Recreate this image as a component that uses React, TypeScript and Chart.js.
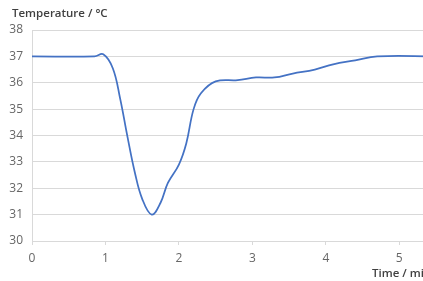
import React, { useEffect, useRef } from "react";
import { Chart, registerables } from "chart.js";

Chart.register(...registerables);

const timeMin = [0, 0.85, 0.97, 1.1, 1.2, 1.3, 1.4, 1.5, 1.63, 1.75, 1.85, 2.0, 2.1, 2.2, 2.3, 2.5, 2.8, 3.05, 3.3, 3.55, 3.85, 4.1, 4.4, 4.7, 5.5];
const temperature = [37, 37, 37.08, 36.55, 35.4, 33.95, 32.6, 31.6, 31.0, 31.45, 32.2, 32.9, 33.7, 35.0, 35.6, 36.05, 36.1, 36.2, 36.2, 36.35, 36.5, 36.7, 36.85, 37.0, 37.0];
const yTitle = "Temperature / °C";
const xTitle = "Time / min";

const FONT = "'Open Sans', 'Noto Sans', sans-serif";

const titlesPlugin = {
  id: "axisTitles",
  afterDraw(chart: any) {
    const ctx = chart.ctx;
    ctx.save();
    ctx.fillStyle = "#404040";
    ctx.font = `600 11.5px ${FONT}`;
    ctx.textBaseline = "middle";
    ctx.textAlign = "left";
    ctx.fillText(yTitle, 12, 14);
    ctx.fillText(xTitle, 372, 274);
    ctx.restore();
  },
};

export default function App() {
  const ref = useRef<HTMLCanvasElement | null>(null);
  useEffect(() => {
    if (!ref.current) return;
    const chart = new Chart(ref.current, {
      type: "line",
      data: {
        datasets: [
          {
            data: timeMin.map((x, i) => ({ x, y: temperature[i] })),
            borderColor: "#4472C4",
            borderWidth: 1.75,
            pointRadius: 0,
            tension: 0.4,
            fill: false,
          },
        ],
      },
      options: {
        responsive: false,
        animation: false,
        devicePixelRatio: 1,
        layout: { padding: { top: 30, right: 9, left: 0, bottom: 0 } },
        plugins: { legend: { display: false }, tooltip: { enabled: false } },
        scales: {
          x: {
            type: "linear",
            min: 0,
            max: 5.5,
            afterBuildTicks: (scale: any) => {
              scale.ticks = scale.ticks.filter((t: any) => Number.isInteger(t.value));
            },
            afterFit: (scale: any) => {
              scale.height = 40;
            },
            ticks: { stepSize: 1, color: "#666666", font: { family: FONT, size: 12 }, padding: 6, maxRotation: 0 },
            grid: { drawOnChartArea: false, drawTicks: true, tickLength: 4, color: "#d9d9d9" },
            border: { display: true, color: "#d9d9d9" },
          },
          y: {
            min: 30,
            max: 38,
            afterFit: (scale: any) => {
              scale.width = 32;
            },
            ticks: { stepSize: 1, color: "#666666", font: { family: FONT, size: 12 }, padding: 9 },
            grid: { color: "#d9d9d9", drawTicks: false },
            border: { display: true, color: "#d9d9d9" },
          },
        },
      },
      plugins: [titlesPlugin],
    });
    return () => chart.destroy();
  }, []);
  return (
    <div style={{ position: "absolute", left: 0, top: 0, width: 423, height: 281, overflow: "hidden", background: "#fff" }}>
      <canvas ref={ref} width={445} height={281} style={{ display: "block" }} />
    </div>
  );
}
